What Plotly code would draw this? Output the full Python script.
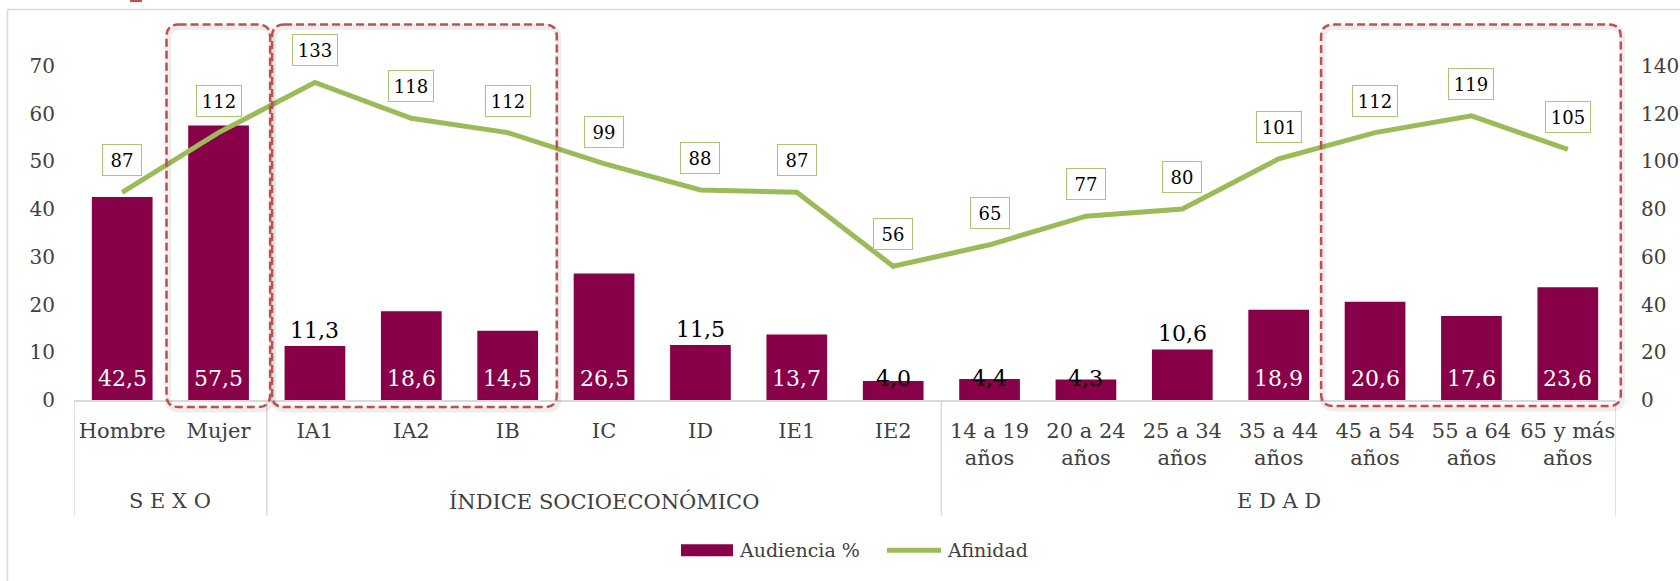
import plotly.graph_objects as go

# ---------------- data ----------------
categories = ["Hombre", "Mujer", "IA1", "IA2", "IB", "IC", "ID", "IE1", "IE2",
              "14 a 19<br>años", "20 a 24<br>años", "25 a 34<br>años", "35 a 44<br>años",
              "45 a 54<br>años", "55 a 64<br>años", "65 y más<br>años"]
audiencia = [42.5, 57.5, 11.3, 18.6, 14.5, 26.5, 11.5, 13.7, 4.0,
             4.4, 4.3, 10.6, 18.9, 20.6, 17.6, 23.6]
afinidad = [87, 112, 133, 118, 112, 99, 88, 87, 56,
            65, 77, 80, 101, 112, 119, 105]
groups = ["S E X O", "ÍNDICE SOCIOECONÓMICO", "E D A D"]
group_start = [0, 2, 9]
group_end = [1, 8, 15]
left_ticks = [0, 10, 20, 30, 40, 50, 60, 70]
right_ticks = [0, 20, 40, 60, 80, 100, 120, 140]

# label placement style per bar: base (white), basedark (black), above (black)
label_style = ["base", "base", "above", "base", "base", "base", "above", "base", "basedark",
               "basedark", "basedark", "above", "base", "base", "base", "base"]

BAR = "#880048"
GREEN = "#9BBB59"
RED = "#C0504D"
GRAY = "#D9D9D9"
TXT = "#404040"
FONT = "DejaVu Serif"

W, H = 1680, 581
PL, PR, PT, PB = 74, 1616, 18.4, 400

def px_x(p):
    return (p - PL) / (PR - PL)

def px_y(p):
    return (PB - p) / (PB - PT)

xs = list(range(len(categories)))
fmt = lambda v: f"{v:.1f}".replace(".", ",")

fig = go.Figure()
fig.add_trace(go.Bar(x=xs, y=audiencia, name="Audiencia %", marker_color=BAR,
                     marker_line_width=0, width=0.63, yaxis="y", showlegend=False,
                     hoverinfo="skip"))
fig.add_trace(go.Scatter(x=xs, y=afinidad, name="Afinidad", mode="lines",
                         line=dict(color=GREEN, width=5), yaxis="y2", showlegend=False,
                         hoverinfo="skip"))

annotations = []
# bar labels
for x, v, st in zip(xs, audiencia, label_style):
    if st == "above":
        annotations.append(dict(x=x, y=v, xref="x", yref="y", text=fmt(v), showarrow=False,
                                yanchor="middle", yshift=16,
                                font=dict(family=FONT, size=22, color="#000000")))
    else:
        annotations.append(dict(x=x, y=0, xref="x", yref="y", text=fmt(v), showarrow=False,
                                yanchor="middle", yshift=22,
                                font=dict(family=FONT, size=22,
                                          color="#FFFFFF" if st == "base" else "#000000")))
# afinidad labels
for x, v in zip(xs, afinidad):
    t = str(v)
    annotations.append(dict(x=x, y=v, xref="x", yref="y2", text=t, showarrow=False,
                            yanchor="middle", yshift=32, width=6 * len(t) + 18, height=22,
                            bgcolor="#FFFFFF", bordercolor="#A9C773", borderwidth=1, borderpad=4,
                            font=dict(family=FONT, size=18, color="#000000")))
# group labels
for g, s, e in zip(groups, group_start, group_end):
    annotations.append(dict(x=(s + e) / 2, y=px_y(501), xref="x", yref="paper", text=g,
                            showarrow=False, yanchor="middle",
                            font=dict(family=FONT, size=21, color=TXT)))
# legend text
annotations.append(dict(x=px_x(737), y=px_y(550), xref="paper", yref="paper", text="Audiencia %",
                        showarrow=False, xanchor="left", yanchor="middle",
                        font=dict(family=FONT, size=19, color=TXT)))
annotations.append(dict(x=px_x(945), y=px_y(550), xref="paper", yref="paper", text="Afinidad",
                        showarrow=False, xanchor="left", yanchor="middle",
                        font=dict(family=FONT, size=19, color=TXT)))

shapes = []
# chart border
shapes.append(dict(type="rect", xref="paper", yref="paper", x0=px_x(7.5), x1=px_x(1720),
                   y0=px_y(620), y1=px_y(10), line=dict(color=GRAY, width=1.5), layer="below"))
# small red mark at top
shapes.append(dict(type="rect", xref="paper", yref="paper", x0=px_x(130), x1=px_x(142),
                   y0=px_y(2.5), y1=px_y(-3), fillcolor=RED, line=dict(width=0)))
# category dividers
div_x = [group_start[0] - 0.5] + [e + 0.5 for e in group_end]
for dx in div_x:
    shapes.append(dict(type="line", xref="x", yref="paper", x0=dx, x1=dx, y0=0, y1=px_y(515.5),
                       line=dict(color=GRAY, width=1.5)))

# rounded dashed highlight boxes (x in category units -> paper, y in px -> paper)
def cat_to_paper(c):
    return (c + 0.5) / len(categories)

def rrect(c0, c1, ytop, ybot, r=12, dxp=0.0, dyp=0.0):
    x0 = cat_to_paper(c0) + dxp / (PR - PL)
    x1 = cat_to_paper(c1) + dxp / (PR - PL)
    rx = r / (PR - PL)
    y1 = px_y(ytop + dyp)
    y0 = px_y(ybot + dyp)
    ry = r / (PB - PT)
    return (f"M {x0+rx},{y1} L {x1-rx},{y1} Q {x1},{y1} {x1},{y1-ry} "
            f"L {x1},{y0+ry} Q {x1},{y0} {x1-rx},{y0} L {x0+rx},{y0} "
            f"Q {x0},{y0} {x0},{y0+ry} L {x0},{y1-ry} Q {x0},{y1} {x0+rx},{y1} Z")

boxes = [(0.46, 1.535, 25, 407), (1.555, 4.51, 25, 407), (12.44, 15.55, 25, 406)]
for bx0, bx1, yt, yb in boxes:
    shapes.append(dict(type="path", xref="paper", yref="paper", path=rrect(bx0, bx1, yt, yb, dxp=1.5, dyp=2.5),
                       line=dict(color="rgba(0,0,0,0.07)", width=6)))
    shapes.append(dict(type="path", xref="paper", yref="paper", path=rrect(bx0, bx1, yt, yb),
                       line=dict(color=RED, width=2.5, dash="8px,4px")))
# legend swatches
shapes.append(dict(type="rect", xref="paper", yref="paper", x0=px_x(681), x1=px_x(733),
                   y0=px_y(556), y1=px_y(544), fillcolor=BAR, line=dict(width=0)))
shapes.append(dict(type="line", xref="paper", yref="paper", x0=px_x(887), x1=px_x(941),
                   y0=px_y(550), y1=px_y(550), line=dict(color=GREEN, width=5)))

fig.update_layout(
    width=W, height=H,
    margin=dict(l=PL, r=W - PR, t=PT, b=H - PB, pad=0, autoexpand=False),
    paper_bgcolor="#FFFFFF", plot_bgcolor="#FFFFFF",
    bargap=0.37,
    hovermode=False,
    xaxis=dict(tickmode="array", tickvals=xs, ticktext=categories, range=[-0.5, len(xs) - 0.5],
               showgrid=False, zeroline=False, showline=True, linecolor=GRAY, linewidth=1.5,
               ticks="", tickfont=dict(family=FONT, size=21, color=TXT), ticklabelstandoff=11,
               tickangle=0, fixedrange=True, automargin=False),
    yaxis=dict(range=[0, 80], tickvals=left_ticks, ticktext=[str(t) for t in left_ticks],
               showgrid=False, zeroline=False, showline=False, ticks="", automargin=False,
               tickfont=dict(family=FONT, size=20, color=TXT), ticklabelstandoff=18),
    yaxis2=dict(range=[0, 160], tickvals=right_ticks, ticktext=[str(t) for t in right_ticks],
                overlaying="y", side="right", showgrid=False, zeroline=False, showline=False,
                ticks="", automargin=False,
                tickfont=dict(family=FONT, size=20, color=TXT), ticklabelstandoff=24),
    annotations=annotations,
    shapes=shapes,
    showlegend=False,
)

fig.write_html("out.html", config={"displayModeBar": False, "staticPlot": True},
               post_script="document.body.style.margin='0';document.body.style.overflow='hidden';")
